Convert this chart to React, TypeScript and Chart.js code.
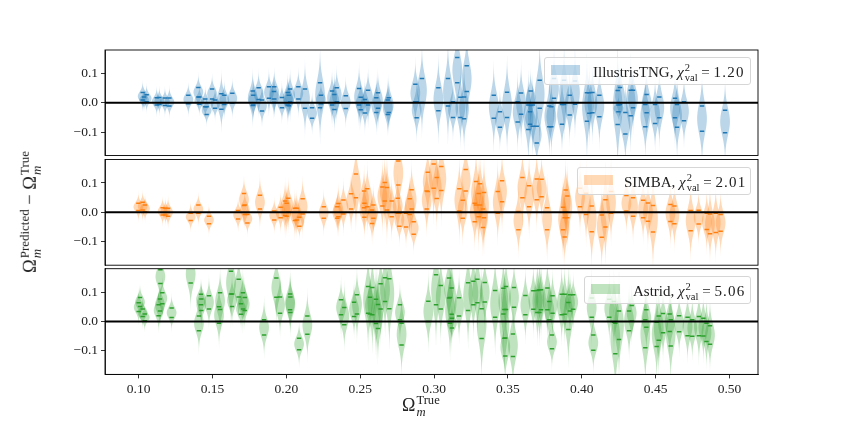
import { useEffect, useRef, type ReactNode } from "react"
import { Chart, registerables } from "chart.js"

Chart.register(...registerables)

// each row: true value, upper quantile mark, lower quantile mark
type Row = [number, number, number]

const tngRows: Row[] = [
  [.1027, .035, .009], [.1036, .020, .001], [.1054, .027, .003], [.1122, .017, -.008], [.114, .018, -.006],
  [.1178, .016, -.009], [.1208, .016, -.011], [.1336, .026, -.003], [.1404, .052, .020], [.1411, .020, -.005],
  [.1451, .013, -.014], [.146, -.014, -.040], [.1497, .047, .013], [.1517, .009, -.019], [.156, .031, -.022],
  [.158, .026, -.006], [.1634, .032, -.002], [.1772, .040, -.009], [.1776, .026, -.008], [.1812, .051, .011],
  [.1835, .009, -.028], [.1882, .055, .015], [.1918, .055, .013], [.1916, .038, .001], [.197, .018, -.017],
  [.2009, .035, -.008], [.2016, .026, -.010], [.2025, .047, .003], [.2081, .055, .013], [.2126, .047, -.019],
  [.2174, -.017, -.053], [.2228, .068, -.017], [.2234, .026, -.003], [.2309, .040, -.008], [.2325, .028, -.023],
  [.2341, .051, .003], [.2402, .024, -.020], [.2492, .049, -.008], [.2503, .019, -.024], [.2532, .011, -.035],
  [.2553, .043, -.008], [.2609, .017, -.033], [.262, .034, -.019], [.2686, .009, -.040], [.2693, .017, -.033],
  [.2873, .063, .003], [.2882, .003, -.051], [.2918, .083, .001], [.3029, .051, -.027], [.3094, .083, -.011],
  [.3128, .003, -.050], [.3157, .154, .068], [.3178, .019, -.050], [.3203, .020, -.055], [.3221, .126, .038],
  [.3404, .026, -.053], [.3446, -.031, -.084], [.3494, .036, -.050], [.3566, .003, -.066], [.3589, .033, -.039],
  [.3638, -.008, -.091], [.3654, .040, -.009], [.365, -.031, -.073], [.3668, -.008, -.080], [.3695, -.080, -.137],
  [.3715, .077, -.019], [.378, -.011, -.082], [.3794, -.014, -.082], [.3812, .083, .015], [.3866, -.006, -.073],
  [.388, .077, -.006], [.3918, .026, -.042], [.3954, .074, -.005], [.4035, .034, -.063], [.4051, .034, -.036],
  [.4072, .035, -.034], [.4119, .026, -.048], [.4243, .042, -.074], [.4248, -.008, -.031], [.4259, .052, -.006],
  [.4295, -.033, -.107], [.4331, .043, -.044], [.4347, .043, -.017], [.4439, .028, -.034], [.443, -.006, -.082],
  [.4496, -.006, -.071], [.4525, .020, -.051], [.4631, .015, -.051], [.4645, -.006, -.084], [.4692, .003, -.061],
  [.4814, -.011, -.097], [.497, -.026, -.102],
]

const simbaRows: Row[] = [
  [.0998, .031, .006], [.1027, .034, .008], [.1043, .025, .002], [.1162, .016, -.009], [.1181, .014, -.009],
  [.1199, .014, -.013], [.1352, -.003, -.028], [.1404, .025, -.003], [.1476, -.013, -.039], [.1673, .006, -.023],
  [.1713, .064, .023], [.1718, .025, -.007], [.1736, -.007, -.036], [.1821, .058, .011], [.1918, .005, -.026],
  [.1961, .017, -.018], [.1991, .039, -.011], [.2002, .031, -.013], [.2013, .048, .002], [.2058, .014, -.028],
  [.207, .014, -.026], [.2088, -.017, -.047], [.211, .046, -.006], [.2253, .019, -.020], [.2345, .019, -.020],
  [.2352, .030, -.015], [.2386, .042, -.006], [.2438, .063, .011], [.2471, .131, .050], [.2526, .073, .016],
  [.2528, .031, -.017], [.2548, .080, .019], [.258, .008, -.038], [.2589, .025, -.020], [.265, .086, .022],
  [.2666, .102, .039], [.2681, .085, .008], [.2713, .039, -.015], [.2758, .175, .093], [.2754, .048, -.003],
  [.2765, -.003, -.047], [.281, -.003, -.050], [.2835, .046, -.007], [.2848, .077, .011], [.2862, -.032, -.075],
  [.295, .073, .011], [.2957, .137, .071], [.2997, .165, .082], [.3018, .119, .047], [.3049, .156, .074],
  [.3171, .080, .005], [.3194, .041, -.020], [.3214, .146, .073], [.3275, .031, -.032], [.3284, .105, .025],
  [.3302, .064, -.015], [.3311, .097, .025], [.3331, .011, -.052], [.3338, .068, -.018], [.3431, .071, -.003],
  [.346, .108, .036], [.3571, .003, -.059], [.3598, .119, .050], [.3643, .091, .019], [.3695, .114, .043],
  [.3728, .113, .053], [.3765, .016, -.059], [.3873, .017, -.059], [.3891, .076, .002], [.3902, .056, -.018],
  [.3884, -.018, -.084], [.3988, .082, .019], [.4029, .065, -.007], [.4067, .022, -.066], [.4135, -.009, -.085],
  [.416, .043, -.050], [.4198, .071, -.003], [.4302, .057, .005], [.4347, .050, -.013], [.4415, .041, -.018],
  [.4448, .032, -.030], [.4482, .023, -.067], [.46, .027, -.031], [.4627, .022, -.039], [.4737, .006, -.063],
  [.4791, .007, -.040], [.4846, -.003, -.058], [.4868, -.006, -.073], [.4907, -.003, -.069], [.494, -.007, -.064],
]

const astridRows: Row[] = [
  [.10, .064, .034], [.1009, .082, .051], [.1027, .043, .017], [.1041, .026, .003], [.1135, .057, .020],
  [.1144, .077, .036], [.116, .098, .061], [.1147, .176, .130], [.1223, .046, .014], [.1352, .193, .131],
  [.1408, .019, -.031], [.1422, .093, .057], [.1424, .077, .038], [.1476, .088, .043], [.1544, .050, -.006],
  [.1551, .098, .041], [.1625, .171, .094], [.1632, .094, .051], [.1677, .144, .084], [.1693, .061, .025],
  [.1706, .098, .043], [.1718, .082, .038], [.1849, .006, -.046], [.1932, .148, .083], [.1957, .084, .028],
  [.2025, .094, .040], [.2027, .084, .031], [.2086, -.057, -.096], [.2142, .019, -.043], [.237, .074, .023],
  [.2392, .048, -.011], [.2458, .066, .017], [.2478, .091, .026], [.2553, .119, .028], [.2566, .083, .026],
  [.2582, .116, .023], [.2607, .076, -.007], [.262, .058, -.024], [.2638, .129, .043], [.2668, .149, .068],
  [.2697, .146, .044], [.2769, .057, .006], [.278, -.006, -.080], [.2961, .069, .000], [.3013, .159, .057],
  [.3045, .123, .043], [.3101, .148, .080], [.3119, .114, .025], [.3108, .082, -.006], [.3121, .011, -.022],
  [.3169, .081, .019], [.323, .132, .038], [.3266, .137, .057], [.3293, .144, .064], [.3322, .044, -.058],
  [.3343, .133, .067], [.3413, .106, .015], [.3469, .113, .026], [.3487, .119, .041], [.3476, .041, -.057],
  [.3482, -.056, -.117], [.3534, -.042, -.119], [.3541, .116, .049], [.3618, .089, .023], [.3672, .105, .042],
  [.3699, .106, .031], [.3713, .108, .031], [.3724, .108, .040], [.3767, .114, .040], [.378, .068, .006],
  [.3802, .088, .028], [.3798, -.046, -.093], [.3864, .093, .023], [.3884, .093, .025], [.3909, .065, -.027],
  [.392, .091, .036], [.3942, .091, .042], [.4067, .080, .015], [.4078, -.046, -.098], [.4186, .076, .015],
  [.4218, .068, -.002], [.4227, -.006, -.110], [.4252, .036, -.061], [.432, .036, -.031], [.4338, .055, .002],
  [.4437, .040, -.019], [.443, .006, -.089], [.4507, -.002, -.085], [.4521, .019, -.064], [.455, .027, -.038],
  [.4595, .026, -.034], [.4602, .006, -.083], [.4659, .020, -.035], [.4716, .015, -.048], [.4748, .006, -.050],
  [.4793, .017, -.048], [.4823, .011, -.049], [.4844, -.006, -.068], [.4868, -.014, -.077],
]

const xTicks = [0.1, 0.15, 0.2, 0.25, 0.3, 0.35, 0.4, 0.45, 0.5]
const yTicks = [-0.1, 0, 0.1]
const xRange = [0.0772, 0.5193]
const yRange = [-0.18, 0.18]

const WIDTH = 843
const HEIGHT = 421
const serif = "'Liberation Serif', 'DejaVu Serif', serif"

const violinHalfWidth = 0.0033

// filled violin outline for every row, placed with the chart's own scales
function violinPlugin(id: string, rows: Row[], fill: string) {
  return {
    id,
    beforeDatasetsDraw(chart: any) {
      const { ctx, chartArea, scales } = chart
      ctx.save()
      ctx.beginPath()
      ctx.rect(chartArea.left, chartArea.top, chartArea.right - chartArea.left, chartArea.bottom - chartArea.top)
      ctx.clip()
      ctx.fillStyle = fill
      for (const [x, hi, lo] of rows) {
        const mid = (hi + lo) / 2
        const sd = (hi - lo) / 2
        const reach = 2.6 * sd + 0.055
        const left: number[][] = []
        const right: number[][] = []
        for (let i = -40; i <= 40; i++) {
          const d = (i / 40) * reach
          const z = d / sd
          const taper = 1 - Math.abs(i) / 40
          const w = violinHalfWidth * (0.975 * Math.exp(-z * z / 3) + 0.025 * taper * taper * taper)
          const py = scales.y.getPixelForValue(mid + d)
          left.push([scales.x.getPixelForValue(x - w), py])
          right.push([scales.x.getPixelForValue(x + w), py])
        }
        ctx.beginPath()
        left.forEach(([px, py], i) => (i ? ctx.lineTo(px, py) : ctx.moveTo(px, py)))
        right.reverse().forEach(([px, py]) => ctx.lineTo(px, py))
        ctx.closePath()
        ctx.fill()
      }
      ctx.restore()
    },
  }
}

const framePlugin = {
  id: "frame",
  afterDraw(chart: any) {
    const { ctx, chartArea } = chart
    ctx.save()
    ctx.strokeStyle = "#000"
    ctx.lineWidth = 0.9
    ctx.strokeRect(chartArea.left, chartArea.top, chartArea.right - chartArea.left, chartArea.bottom - chartArea.top)
    ctx.restore()
  },
}

function Panel({ rows, color, fill, top, bottom, showX }: {
  rows: Row[]
  color: string
  fill: string
  top: number
  bottom: number
  showX: boolean
}) {
  const canvasRef = useRef<HTMLCanvasElement>(null)

  useEffect(() => {
    if (!canvasRef.current) return
    const marks = rows.flatMap(([x, hi, lo]) => [{ x, y: hi }, { x, y: lo }])
    const chart = new Chart(canvasRef.current, {
      type: "scatter",
      data: {
        datasets: [
          {
            data: [{ x: xRange[0], y: 0 }, { x: xRange[1], y: 0 }],
            showLine: true,
            borderColor: "#000",
            backgroundColor: "#000",
            borderWidth: 2,
            pointRadius: 0,
            order: 0,
          },
          {
            data: marks,
            borderColor: color,
            backgroundColor: color,
            pointStyle: "line",
            pointRadius: 2.2,
            pointBorderColor: color,
            pointBorderWidth: 1.5,
            order: 1,
          },
        ],
      },
      options: {
        responsive: false,
        animation: false,
        layout: {
          padding: { left: 65, right: WIDTH - 758, top, bottom: showX ? HEIGHT - bottom - 30 : HEIGHT - bottom },
        },
        plugins: { legend: { display: false }, tooltip: { enabled: false } },
        scales: {
          x: {
            type: "linear",
            display: showX,
            min: xRange[0],
            max: xRange[1],
            afterBuildTicks: (scale: any) => {
              scale.ticks = xTicks.map((value) => ({ value }))
            },
            afterFit: (scale: any) => {
              scale.height = showX ? 30 : 0
            },
            grid: { drawOnChartArea: false, color: "#000", lineWidth: 0.8, tickLength: 4 },
            border: { color: "#000", width: 0.8 },
            ticks: {
              autoSkip: false,
              maxRotation: 0,
              padding: 3,
              color: "#222",
              font: { family: serif, size: 13.5 },
              callback: (v: any) => Number(v).toFixed(2),
            },
          },
          y: {
            min: yRange[0],
            max: yRange[1],
            afterBuildTicks: (scale: any) => {
              scale.ticks = yTicks.map((value) => ({ value }))
            },
            afterFit: (scale: any) => {
              scale.width = 40
            },
            grid: { drawOnChartArea: false, color: "#000", lineWidth: 0.8, tickLength: 4 },
            border: { color: "#000", width: 0.8 },
            ticks: {
              padding: 3,
              color: "#222",
              font: { family: serif, size: 13.5 },
              callback: (v: any) => (Number(v) < 0 ? "\u2212" : "") + Math.abs(Number(v)).toFixed(1),
            },
          },
        },
      },
      plugins: [violinPlugin("violins", rows, fill), framePlugin],
    } as any)
    return () => chart.destroy()
  }, [])

  return (
    <canvas
      ref={canvasRef}
      width={WIDTH}
      height={HEIGHT}
      style={{ position: "absolute", left: 0, top: 0, width: WIDTH, height: HEIGHT }}
    />
  )
}

// a letter carrying a raised and a lowered script, one above the other
function Scripted({ base, sup, sub, size }: { base: ReactNode; sup: ReactNode; sub: ReactNode; size: number }) {
  const gap = size * 0.66
  return (
    <span style={{ whiteSpace: "nowrap" }}>
      {base}
      <span
        style={{
          display: "inline-block",
          verticalAlign: -size * 0.26,
          fontSize: size * 0.7,
          lineHeight: `${gap}px`,
          textAlign: "left",
          marginLeft: 1,
        }}
      >
        <span style={{ display: "block" }}>{sup}</span>
        <span style={{ display: "block" }}>{sub}</span>
      </span>
    </span>
  )
}

function LegendBox({ label, value, fill, left, top, textLeft }: {
  label: string
  value: string
  fill: string
  left: number
  top: number
  textLeft: number
}) {
  return (
    <div
      style={{
        position: "absolute",
        left,
        top,
        width: 751 - left,
        height: 28,
        boxSizing: "border-box",
        background: "rgba(255,255,255,0.8)",
        border: "1px solid #d6d6d6",
        borderRadius: 3,
        fontFamily: serif,
        fontSize: 15,
        color: "#222",
      }}
    >
      <div style={{ position: "absolute", left: 6, top: 7, width: 29, height: 10, background: fill }} />
      <div style={{ position: "absolute", left: textLeft - left, top: 5, lineHeight: "18px", whiteSpace: "nowrap" }}>
        {label}, <Scripted base={<i>{"\u03c7"}</i>} sup="2" sub="val" size={15} /> = <span style={{ letterSpacing: 1.2 }}>{value}</span>
      </div>
    </div>
  )
}

export default function App() {
  return (
    <div style={{ position: "absolute", left: 0, top: 0, width: WIDTH, height: HEIGHT, overflow: "hidden", background: "#fff" }}>
      <Panel rows={tngRows} color="#1f77b4" fill="rgba(31,119,180,0.3)" top={50} bottom={155.5} showX={false} />
      <Panel rows={simbaRows} color="#ff7f0e" fill="rgba(255,127,14,0.3)" top={159.5} bottom={265.2} showX={false} />
      <Panel rows={astridRows} color="#2ca02c" fill="rgba(44,160,44,0.3)" top={268.7} bottom={374.4} showX />
      <LegendBox label="IllustrisTNG" value="1.20" fill="rgba(31,119,180,0.3)" left={544} top={57} textLeft={592} />
      <LegendBox label="SIMBA" value="2.01" fill="rgba(255,127,14,0.3)" left={577} top={167} textLeft={623} />
      <LegendBox label="Astrid" value="5.06" fill="rgba(44,160,44,0.3)" left={584} top={276} textLeft={632} />
      <div style={{ position: "absolute", left: 402, top: 395, fontFamily: serif, fontSize: 18, lineHeight: "20px", color: "#222" }}>
        <Scripted base={"\u03a9"} sup="True" sub={<i>m</i>} size={18} />
      </div>
      <div
        style={{
          position: "absolute",
          left: 31,
          top: 212,
          fontFamily: serif,
          fontSize: 18.5,
          lineHeight: "20px",
          color: "#222",
          whiteSpace: "nowrap",
          transform: "translate(-50%, -50%) rotate(-90deg)",
        }}
      >
        <Scripted base={"\u03a9"} sup="Predicted" sub={<i>m</i>} size={18.5} /> {"\u2212"} <Scripted base={"\u03a9"} sup="True" sub={<i>m</i>} size={18.5} />
      </div>
    </div>
  )
}
